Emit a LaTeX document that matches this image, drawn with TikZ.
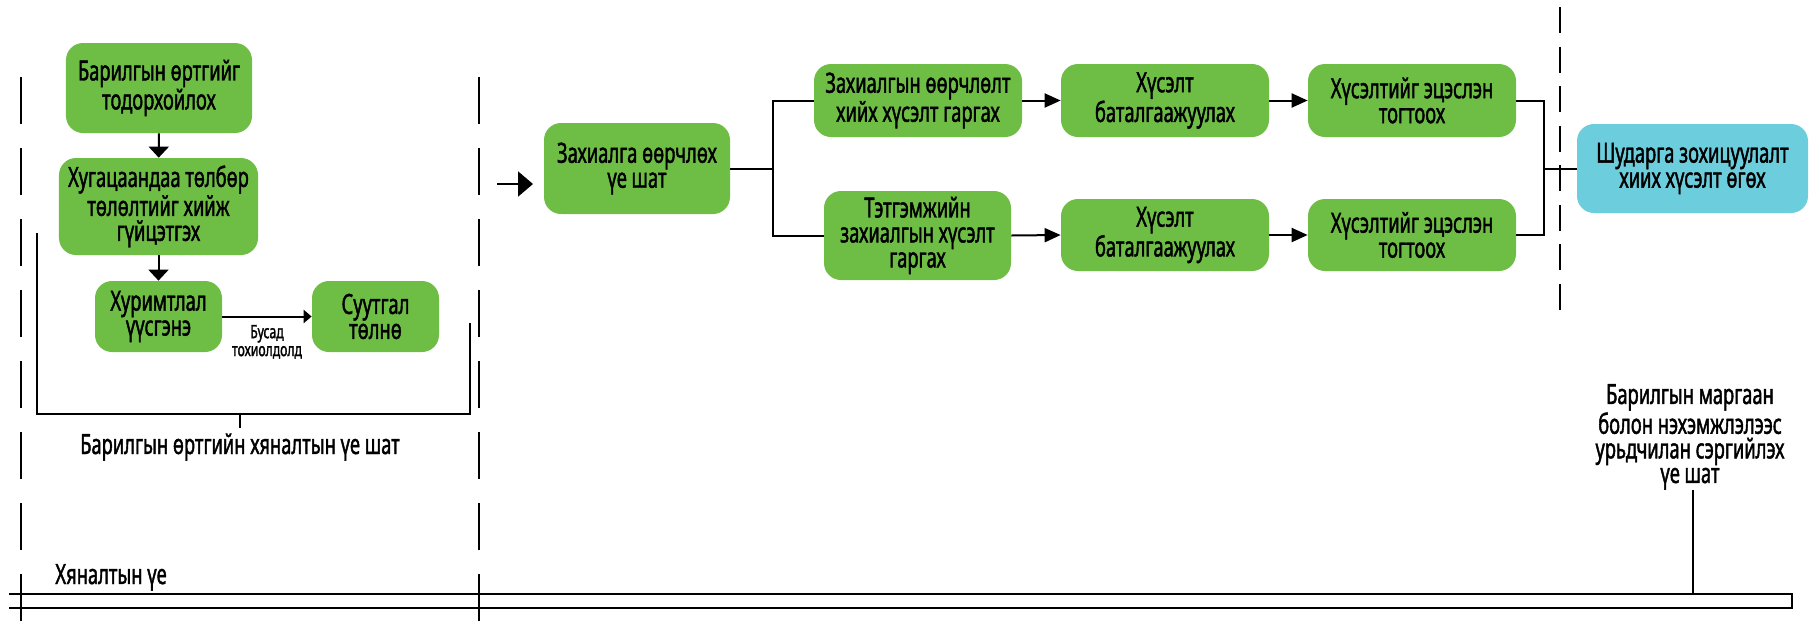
\documentclass[tikz,border=0pt]{standalone}
\usepackage{fontspec}
\setmainfont{Noto Sans}[FakeStretch=0.66,FakeBold=1.5]
\usetikzlibrary{arrows.meta}
\definecolor{boxgreen}{RGB}{110,190,70}
\definecolor{boxblue}{RGB}{108,205,221}

\begin{document}
\begin{tikzpicture}[x=0.2mm,y=-0.2mm,
    box/.style={fill=boxgreen,rectangle,rounded corners=3.4mm,align=center,inner sep=0pt,font=\fontsize{15.8}{14.2}\selectfont},
    lbl/.style={align=center,inner sep=0pt,font=\fontsize{15.8}{14}\selectfont},
    line/.style={line width=0.4mm},
    longdash/.style={line width=0.4mm,dash pattern=on 9.4mm off 4.8mm},
    shortdash/.style={line width=0.4mm,dash pattern=on 5.2mm off 2.7mm}]
    \useasboundingbox (0,0) rectangle (1812,621);
        %% Cost control stage
        \node[box,minimum width=37.2mm,minimum height=18mm] (A) at (159,88) {Барилгын өртгийг\\тодорхойлох};
        \node[box,minimum width=39.8mm,minimum height=19.4mm] (B) at (158.5,206.5) {Хугацаандаа төлбөр\\төлөлтийг хийж\\гүйцэтгэх};
        \node[box,minimum width=25.4mm,minimum height=14.2mm] (C) at (158.5,316.5) {Хуримтлал\\үүсгэнэ};
        \node[box,minimum width=25.4mm,minimum height=14.2mm] (D) at (375.5,316.5) {Суутгал\\төлнө};
        \draw[line,-{Triangle[length=2.2mm,width=4mm]}] (A) -- (B);
        \draw[line,-{Triangle[length=2.2mm,width=4mm]}] (B) -- (C);
        \draw[line,-{Triangle[length=1.6mm,width=2.6mm]}] (C) -- (D) node[midway,below=1.5mm,align=center,inner sep=0pt,font=\fontsize{10.5}{10.2}\selectfont] (Cd) {Бусад\\тохиолдолд};
        %% Bracket
        \draw[line] (37,233) |- (470,414) -- (470,323);
        \coordinate (P) at (240,414);
        \draw[line] (P) -- ++(0,14);
        \node[lbl,anchor=base] (M) at (240,454) {Барилгын өртгийн хяналтын үе шат};
        %% Order change stage
        \coordinate (in) at (497,184);
        \draw[line,-{Triangle[length=3mm,width=5mm]}] (in) -- ++(36,0);
        \node[box,minimum width=37.2mm,minimum height=18.2mm] (E) at (637,168.5) {Захиалга өөрчлөх\\үе шат};
        \node[box,minimum width=41.6mm,minimum height=14.6mm] (F) at (918,100.5) {Захиалгын өөрчлөлт\\хийх хүсэлт гаргах};
        \node[box,minimum width=37.4mm,minimum height=17.8mm] (G) at (917.5,235.5) {Тэтгэмжийн\\захиалгын хүсэлт\\гаргах};
        \node[box,minimum width=41.6mm,minimum height=14.6mm] (H) at (1165,100.5) {Хүсэлт\\баталгаажуулах};
        \node[box,minimum width=41.6mm,minimum height=14.6mm] (I) at (1412,100.5) {Хүсэлтийг эцэслэн\\тогтоох};
        \node[box,minimum width=41.6mm,minimum height=14.4mm] (J) at (1165,235) {Хүсэлт\\баталгаажуулах};
        \node[box,minimum width=41.6mm,minimum height=14.4mm] (K) at (1412,235) {Хүсэлтийг эцэслэн\\тогтоох};
        \draw[line] (E.east) -- ++(43,0) |- (F.west);
        \draw[line] (E.east) -- ++(43,0) |- (G.west);
        \draw[line,-{Triangle[length=3.2mm,width=2.8mm]}] (F) -- (H);
        \draw[line,-{Triangle[length=3.2mm,width=2.8mm]}] (H) -- (I);
        \draw[line,-{Triangle[length=3.2mm,width=2.8mm]}] (G.east) -- (J.west);
        \draw[line,-{Triangle[length=3.2mm,width=2.8mm]}] (J) -- (K);
        %% Dispute prevention stage
        \node[box,fill=boxblue,minimum width=46.2mm,minimum height=17.8mm] (L) at (1692.5,168.5) {Шударга зохицуулалт\\хиих хүсэлт өгөх};
        \draw[line] (I.east) -- ++(28,0) |- (L.west);
        \draw[line] (K.east) -- ++(28,0) |- (L.west);
        %% Stage borders
        \draw[longdash] (21,77) -- (21,621);
        \draw[longdash] (479,77) -- (479,621);
        \draw[shortdash] (1560,7) -- (1560,310);
        %% Time bar
        \draw[line] (9,594) -- (1792,594) -- (1792,608) -- (9,608);
        \node[lbl,anchor=base west] (N) at (55,584) {Хяналтын үе};
        \node[lbl,anchor=south] (O) at (1690,490) {Барилгын маргаан\\болон нэхэмжлэлээс\\урьдчилан сэргийлэх\\үе шат};
        \coordinate (Q) at (1693,594);
        \draw[line] (O.south -| Q) -- (Q);
\end{tikzpicture}
\end{document}
